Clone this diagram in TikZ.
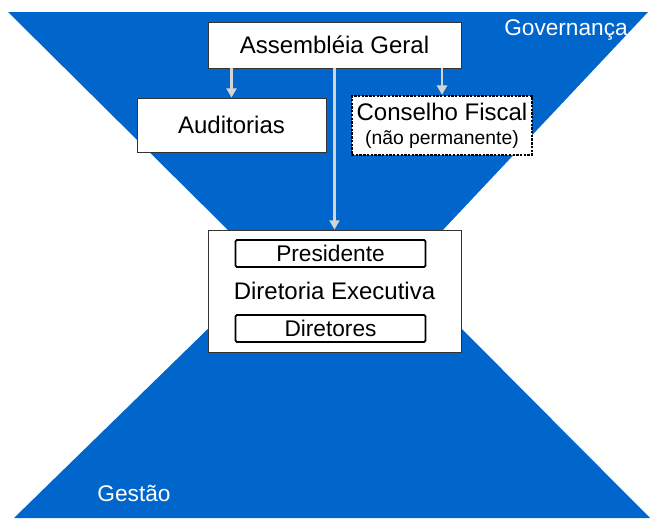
\documentclass[tikz,border=0pt]{standalone}
\usepackage{fontspec}
\setmainfont{Liberation Sans}
\usetikzlibrary{arrows.meta}
\definecolor{govblue}{RGB}{0,102,204}
\definecolor{arrowgray}{RGB}{212,212,212}
\tikzset{
  box/.style={draw=black!80, fill=white, line width=0.6pt, inner sep=0pt, font=\fontsize{18}{21}\selectfont},
  dotbox/.style={box, draw=black, line width=1.8pt, densely dotted, align=center},
  innerbox/.style={draw=black, line width=1.3pt, rounded corners=1pt, inner sep=0pt,
    minimum width=142.5pt, minimum height=20.25pt, font=\fontsize{17}{20}\selectfont},
  flow/.style={draw=arrowgray, line width=2pt, -{Triangle[width=7.5pt,length=7pt]}},
  zone/.style={text=white, font=\fontsize{17}{20}\selectfont}
}
\begin{document}
\begin{tikzpicture}[x=0.75pt,y=-0.75pt]
\useasboundingbox (0,0) rectangle (650,518);

% the two funnels
\fill[govblue] (8,12) -- (648,12) -- (441,232) -- (230,232) -- cycle;
\fill[govblue] (14,518) -- (650,518) -- (453,320) -- (217,320) -- cycle;

\node[zone] (gov) at (566,30) {Governança};
\node[zone] (ges) at (134,493) {Gestão};

\node[box, minimum width=189.75pt, minimum height=34.5pt] (ag) at (334.5,45) {Assembléia Geral};
\node[box, minimum width=141.75pt, minimum height=40.5pt] (aud) at (231.5,125) {Auditorias};
\node[dotbox, minimum width=135pt, minimum height=44.25pt] (cf) at (442,125.5)
  {Conselho Fiscal\\[-3pt]{\fontsize{14.5}{16}\selectfont(não permanente)}};
\node[box, minimum width=189.75pt, minimum height=91.5pt] (dir) at (334.5,291) {Diretoria Executiva};
\node[innerbox] (pres) at (330.5,253.5) {Presidente};
\node[innerbox] (dirs) at (330.5,328.5) {Diretores};

\draw[flow] (ag.south -| aud.north) -- (aud.north);
\draw[flow] (ag.south -| cf.north) -- (cf.north);
\draw[flow] (ag.south) -- (dir.north);
\end{tikzpicture}
\end{document}
